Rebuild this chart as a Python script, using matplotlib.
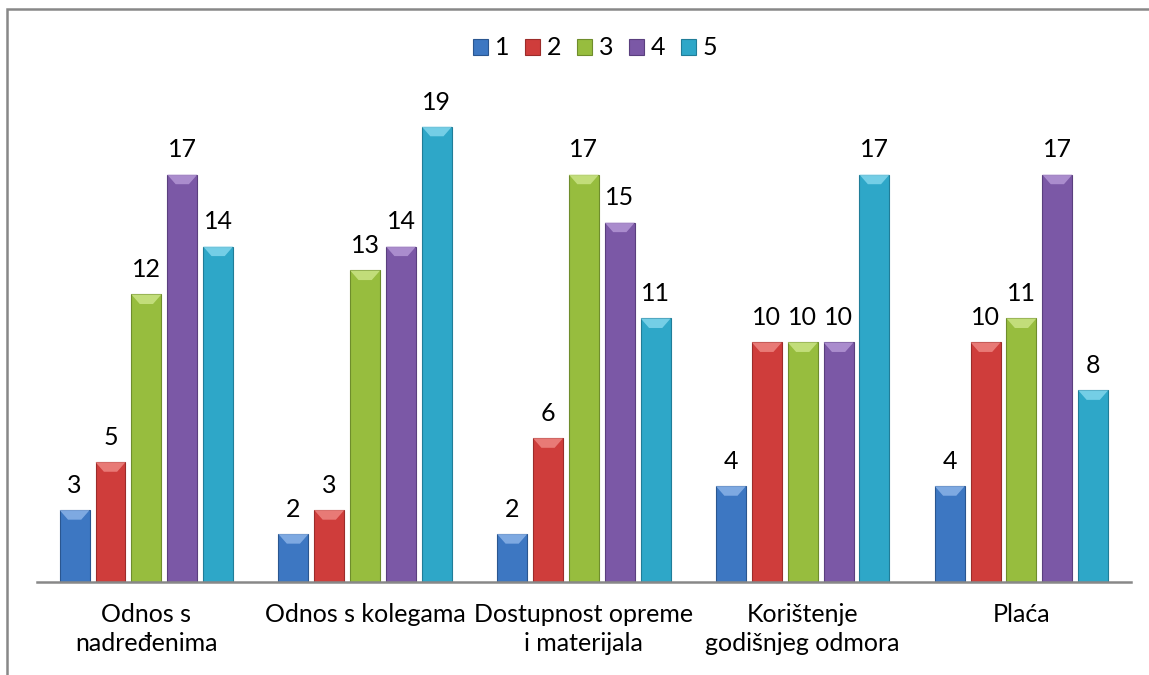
import matplotlib.pyplot as plt
from matplotlib.patches import Polygon, Rectangle
import numpy as np

plt.rcParams['font.family'] = ['Lato', 'DejaVu Sans']

categories = ['Odnos s\nnadređenima', 'Odnos s kolegama', 'Dostupnost opreme\ni materijala',
              'Korištenje\ngodišnjeg odmora', 'Plaća']
series_names = ['1', '2', '3', '4', '5']
s1 = [3, 2, 2, 4, 4]
s2 = [5, 3, 6, 10, 10]
s3 = [12, 13, 17, 10, 11]
s4 = [17, 14, 15, 10, 17]
s5 = [14, 19, 11, 17, 8]

colors = ['#3d77c2', '#cf3d3b', '#97bd3e', '#7b58a6', '#2ea7c8']
tops = ['#8fb6ea', '#ef8a86', '#cde68a', '#b79ad8', '#86d8ee']
edges = ['#2a5690', '#9c2c2a', '#6f8d2c', '#5a3f7e', '#207d98']

fig = plt.figure(figsize=(11.49, 6.75), dpi=100)
ax = fig.add_axes([0.0322, 0.1378, 0.952, 0.71])

x = np.arange(len(categories))
width = 0.137
pitch = 0.164
handles = []
for i, vals in enumerate([s1, s2, s3, s4, s5]):
    bars = ax.bar(x + (i - 2) * pitch, vals, width, color=colors[i], edgecolor=edges[i],
                  linewidth=0.8, label=series_names[i], zorder=2)
    handles.append(bars)
    for b in bars:
        bx, bw, bh = b.get_x(), b.get_width(), b.get_height()
        d = 0.4
        poly = Polygon([[bx, bh], [bx + bw, bh], [bx + bw * 0.72, bh - d], [bx + bw * 0.28, bh - d]],
                       closed=True, facecolor=tops[i], edgecolor='none', alpha=0.8, zorder=3)
        ax.add_patch(poly)
        ax.annotate(str(int(bh)), (bx + bw / 2, bh), xytext=(0, 9.5), textcoords='offset points',
                    ha='center', va='bottom', fontsize=18, color='black')

ax.set_xlim(-0.5, 4.5)
ax.set_ylim(0, 20)
ax.set_yticks([])
ax.set_xticks(x)
ax.set_xticklabels(categories, fontsize=18, linespacing=1.3)
ax.tick_params(axis='x', length=0, pad=15)
for s in ['top', 'right', 'left']:
    ax.spines[s].set_visible(False)
ax.spines['bottom'].set_color('#888888')
ax.spines['bottom'].set_linewidth(1.8)

fig.legend(handles=handles, loc='center', bbox_to_anchor=(0.518, 0.929), ncol=5, frameon=False,
           fontsize=18, handlelength=0.6, handleheight=0.6, handletextpad=0.25, columnspacing=0.65)

fig.patches.append(Rectangle((0.0065, -0.1), 1.2, 1.087, transform=fig.transFigure,
                             fill=False, edgecolor='#888888', linewidth=1.8))

fig.savefig('out.png', dpi=100)
